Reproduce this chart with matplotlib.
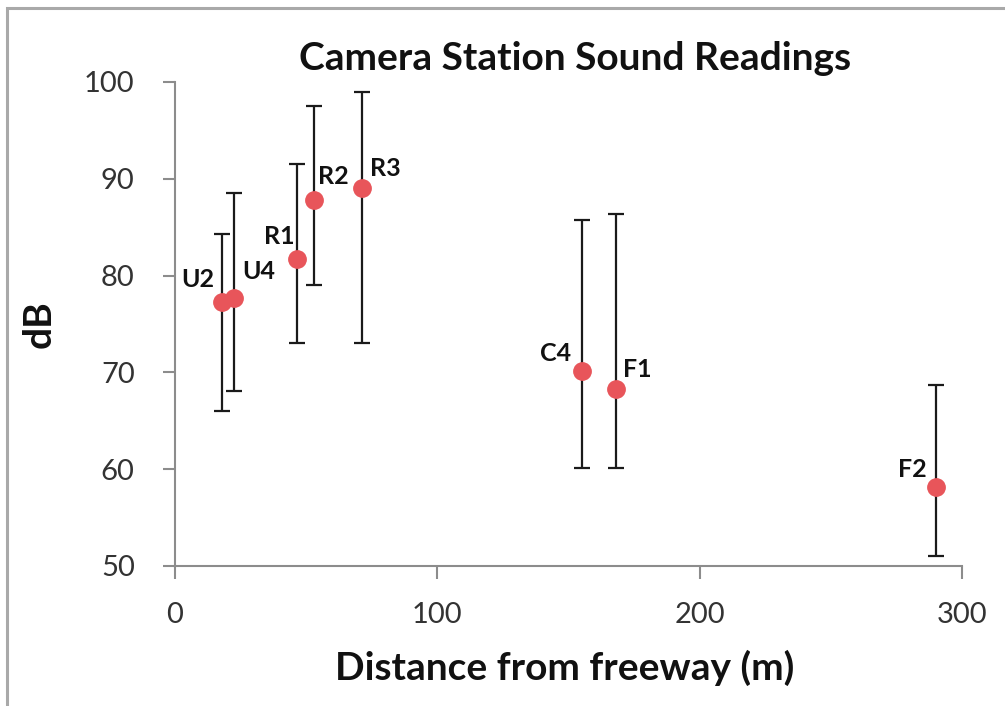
import matplotlib.pyplot as plt
from matplotlib.patches import Rectangle

# station readings
stations = ['U2', 'U4', 'R1', 'R2', 'R3', 'C4', 'F1', 'F2']
distance = [18, 22.5, 46.5, 53, 71.3, 155, 168, 290]
db_mean = [77.3, 77.7, 81.7, 87.8, 89.1, 70.1, 68.3, 58.2]
db_high = [84.3, 88.5, 91.5, 97.5, 99.0, 85.7, 86.4, 68.7]
db_low = [66.0, 68.1, 73.0, 79.0, 73.0, 60.1, 60.1, 51.0]

# label offsets in pixels (dx, dy) from each marker to the text baseline
label_offsets = [(-8, 15), (8, 19), (-2, 15), (4, 16), (8, 12), (-10, 10), (7, 12), (-9, 10)]
label_ha = ['right', 'left', 'right', 'left', 'left', 'right', 'left', 'right']

plt.rcParams['font.family'] = ['Lato', 'DejaVu Sans']

W, H = 1005, 706
fig = plt.figure(figsize=(W / 100, H / 100), dpi=100)
ax = fig.add_axes([175 / W, 1 - 566 / H, (962 - 175) / W, (566 - 82) / H])

# outer frame of the original chart area
fig.patches.append(Rectangle((7 / W, -0.05), 1.1, 1 - 8 / H + 0.05,
                             transform=fig.transFigure, fill=False,
                             edgecolor='#a9a9a9', linewidth=2.2))

yerr = [[m - lo for m, lo in zip(db_mean, db_low)],
        [hi - m for m, hi in zip(db_mean, db_high)]]
ax.errorbar(distance, db_mean, yerr=yerr, fmt='none', ecolor='#1a1a1a',
            elinewidth=1.6, capsize=6, capthick=1.6, zorder=2)
ax.plot(distance, db_mean, 'o', color='#e8555a', markersize=12.5,
        markeredgecolor='#e8555a', zorder=3)

for name, x, y, off, ha in zip(stations, distance, db_mean, label_offsets, label_ha):
    ax.annotate(name, (x, y), xytext=off, textcoords='offset pixels',
                ha=ha, va='baseline', fontsize=18, fontweight='bold', color='#111111')

ax.set_xlim(0, 300)
ax.set_ylim(50, 100)
ax.set_xticks([0, 100, 200, 300])
ax.set_yticks([50, 60, 70, 80, 90, 100])

for side in ['top', 'right']:
    ax.spines[side].set_visible(False)
for side in ['left', 'bottom']:
    ax.spines[side].set_color('#8c8c8c')
    ax.spines[side].set_linewidth(1.5)

ax.tick_params(axis='both', colors='#8c8c8c', width=1.5, length=9,
               labelsize=21, labelcolor='#333333')
ax.tick_params(axis='x', pad=17)
ax.tick_params(axis='y', pad=20)

fig.text(575 / W, 1 - 70 / H, 'Camera Station Sound Readings', fontsize=28,
         fontweight='bold', color='#111111', ha='center', va='baseline')
fig.text(565 / W, 1 - 680 / H, 'Distance from freeway (m)', fontsize=28,
         fontweight='bold', color='#111111', ha='center', va='baseline')
fig.text(39 / W, 1 - 324 / H, 'dB', fontsize=28, fontweight='bold',
         color='#111111', ha='center', va='center', rotation=90)

fig.savefig('out.png', dpi=100)
